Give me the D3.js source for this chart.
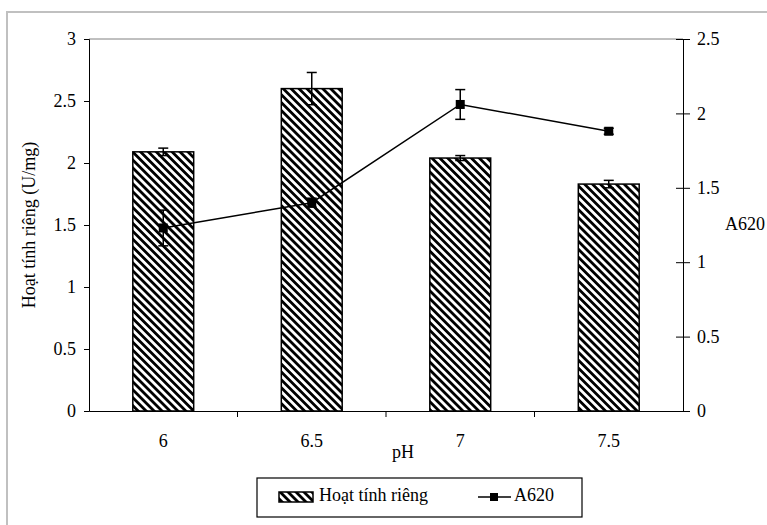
<!DOCTYPE html>
<html lang="vi">

<head>
    <meta charset="UTF-8">
    <title>Hoạt tính riêng và A620 theo pH</title>
    <script src="https://d3js.org/d3.v7.min.js"></script>
    <style>
        body {
            margin: 0;
            padding: 0;
            background: #fff;
        }

        svg {
            display: block;
            font-family: "Liberation Serif", "DejaVu Serif", serif;
        }

        .axis path,
        .axis line {
            stroke: #000;
        }
    </style>
</head>

<body>
    <svg id="chart" width="767" height="525"></svg>

    <script>
        // data
        const phLabels = ["6", "6.5", "7", "7.5"];
        const activity = [2.09, 2.6, 2.04, 1.83];
        const activityErr = [0.03, 0.13, 0.02, 0.03];
        const a620 = [1.23, 1.40, 2.06, 1.88];
        const a620Err = [0.12, 0.03, 0.10, 0.02];
        const leftTicks = [0, 0.5, 1, 1.5, 2, 2.5, 3];
        const rightTicks = [0, 0.5, 1, 1.5, 2, 2.5];

        const width = 767, height = 525;
        const margin = { top: 39, right: 84, bottom: 114, left: 89 };
        const innerW = width - margin.left - margin.right;
        const innerH = height - margin.top - margin.bottom;
        const fontSize = 18;
        const serif = '"Liberation Serif", "DejaVu Serif", serif';

        const svg = d3.select("#chart");

        // hatch pattern for the bars
        const defs = svg.append("defs");
        defs.append("pattern")
            .attr("id", "hatch")
            .attr("patternUnits", "userSpaceOnUse")
            .attr("width", 5.6)
            .attr("height", 5.6)
            .attr("patternTransform", "rotate(-45)")
            .call(p => {
                p.append("rect").attr("width", 5.6).attr("height", 5.6).attr("fill", "#fff");
                p.append("rect").attr("width", 2.8).attr("height", 5.6).attr("fill", "#000");
            });

        // outer chart frame
        svg.append("rect")
            .attr("x", 7).attr("y", 12)
            .attr("width", 800).attr("height", 600)
            .attr("fill", "none")
            .attr("stroke", "#c0c0c0")
            .attr("stroke-width", 2);

        const g = svg.append("g")
            .attr("transform", `translate(${margin.left},${margin.top})`);

        const x = d3.scaleBand().domain(phLabels).range([0, innerW]);
        const yLeft = d3.scaleLinear().domain([0, 3]).range([innerH, 0]);
        const yRight = d3.scaleLinear().domain([0, 2.5]).range([innerH, 0]);

        // plot area top border
        g.append("line")
            .attr("x1", 0).attr("x2", innerW)
            .attr("y1", 0).attr("y2", 0)
            .attr("stroke", "#808080");

        // bars
        const barW = x.bandwidth() * 0.41;
        g.selectAll(".bar")
            .data(phLabels)
            .enter().append("rect")
            .attr("class", "bar")
            .attr("x", d => x(d) + (x.bandwidth() - barW) / 2)
            .attr("y", (d, i) => yLeft(activity[i]))
            .attr("width", barW)
            .attr("height", (d, i) => innerH - yLeft(activity[i]))
            .attr("fill", "url(#hatch)")
            .attr("stroke", "#000")
            .attr("stroke-width", 1.5);

        // bar error bars
        const cap = 5;
        const cx = d => x(d) + x.bandwidth() / 2;
        const barErr = g.selectAll(".bar-err")
            .data(phLabels)
            .enter().append("g")
            .attr("class", "bar-err")
            .attr("stroke", "#000")
            .attr("stroke-width", 1.5);
        barErr.append("line")
            .attr("x1", cx).attr("x2", cx)
            .attr("y1", (d, i) => yLeft(activity[i] + activityErr[i]))
            .attr("y2", (d, i) => yLeft(activity[i] - activityErr[i]));
        [1, -1].forEach(s => {
            barErr.append("line")
                .attr("x1", d => cx(d) - cap)
                .attr("x2", d => cx(d) + cap)
                .attr("y1", (d, i) => yLeft(activity[i] + s * activityErr[i]))
                .attr("y2", (d, i) => yLeft(activity[i] + s * activityErr[i]));
        });

        // A620 line
        const line = d3.line()
            .x(d => cx(d))
            .y((d, i) => yRight(a620[i]));
        g.append("path")
            .datum(phLabels)
            .attr("d", line)
            .attr("fill", "none")
            .attr("stroke", "#000")
            .attr("stroke-width", 1.5);

        const ptErr = g.selectAll(".pt-err")
            .data(phLabels)
            .enter().append("g")
            .attr("class", "pt-err")
            .attr("stroke", "#000")
            .attr("stroke-width", 1.5);
        ptErr.append("line")
            .attr("x1", cx).attr("x2", cx)
            .attr("y1", (d, i) => yRight(a620[i] + a620Err[i]))
            .attr("y2", (d, i) => yRight(a620[i] - a620Err[i]));
        [1, -1].forEach(s => {
            ptErr.append("line")
                .attr("x1", d => cx(d) - cap)
                .attr("x2", d => cx(d) + cap)
                .attr("y1", (d, i) => yRight(a620[i] + s * a620Err[i]))
                .attr("y2", (d, i) => yRight(a620[i] + s * a620Err[i]));
        });

        g.selectAll(".marker")
            .data(phLabels)
            .enter().append("rect")
            .attr("class", "marker")
            .attr("x", d => cx(d) - 4.5)
            .attr("y", (d, i) => yRight(a620[i]) - 4.5)
            .attr("width", 9).attr("height", 9)
            .attr("fill", "#000");

        // axes use the same serif face as the rest of the chart
        function serifAxis(sel) {
            sel.attr("font-family", serif).attr("font-size", fontSize);
            sel.selectAll("text")
                .attr("font-family", serif)
                .attr("font-size", fontSize)
                .attr("fill", "#000");
        }

        // left axis
        g.append("g")
            .attr("class", "axis")
            .call(d3.axisLeft(yLeft).tickValues(leftTicks).tickSize(5).tickPadding(8)
                .tickFormat(d3.format("")))
            .call(serifAxis);

        // right axis, ticks crossing the line
        const rAxis = g.append("g")
            .attr("class", "axis")
            .attr("transform", `translate(${innerW},0)`)
            .call(d3.axisRight(yRight).tickValues(rightTicks).tickSize(7).tickPadding(7)
                .tickSizeOuter(0).tickFormat(d3.format("")))
            .call(serifAxis);
        rAxis.selectAll(".tick line").attr("x1", -7);

        // bottom axis: labels at band centers, ticks at band edges
        const xAxis = g.append("g")
            .attr("class", "axis")
            .attr("transform", `translate(0,${innerH})`)
            .call(d3.axisBottom(x).tickSize(0).tickPadding(23).tickSizeOuter(0))
            .call(serifAxis);
        xAxis.selectAll(".edge")
            .data(phLabels.slice(1))
            .enter().append("line")
            .attr("class", "edge")
            .attr("x1", d => x(d)).attr("x2", d => x(d))
            .attr("y1", 0).attr("y2", 6)
            .attr("stroke", "#000");

        // axis titles
        svg.append("text")
            .attr("transform", `translate(35,${margin.top + innerH / 2}) rotate(-90)`)
            .attr("text-anchor", "middle")
            .attr("font-size", fontSize)
            .text("Hoạt tính riêng (U/mg)");

        svg.append("text")
            .attr("x", 403).attr("y", 458)
            .attr("text-anchor", "middle")
            .attr("font-size", fontSize)
            .text("pH");

        svg.append("text")
            .attr("x", 725).attr("y", 230)
            .attr("font-size", fontSize)
            .text("A620");

        // legend
        const legend = svg.append("g");
        legend.append("rect")
            .attr("x", 257).attr("y", 478)
            .attr("width", 325).attr("height", 39)
            .attr("fill", "#fff")
            .attr("stroke", "#000")
            .attr("stroke-width", 1.2);
        legend.append("rect")
            .attr("x", 279).attr("y", 492)
            .attr("width", 34).attr("height", 10)
            .attr("fill", "url(#hatch)")
            .attr("stroke", "#000")
            .attr("stroke-width", 1.5);
        legend.append("text")
            .attr("x", 319).attr("y", 501)
            .attr("font-size", fontSize)
            .text("Hoạt tính riêng");
        legend.append("line")
            .attr("x1", 478).attr("x2", 511)
            .attr("y1", 497).attr("y2", 497)
            .attr("stroke", "#000")
            .attr("stroke-width", 1.5);
        legend.append("rect")
            .attr("x", 490).attr("y", 493)
            .attr("width", 8).attr("height", 8)
            .attr("fill", "#000");
        legend.append("text")
            .attr("x", 514).attr("y", 501)
            .attr("font-size", fontSize)
            .text("A620");
    </script>

</body>

</html>
